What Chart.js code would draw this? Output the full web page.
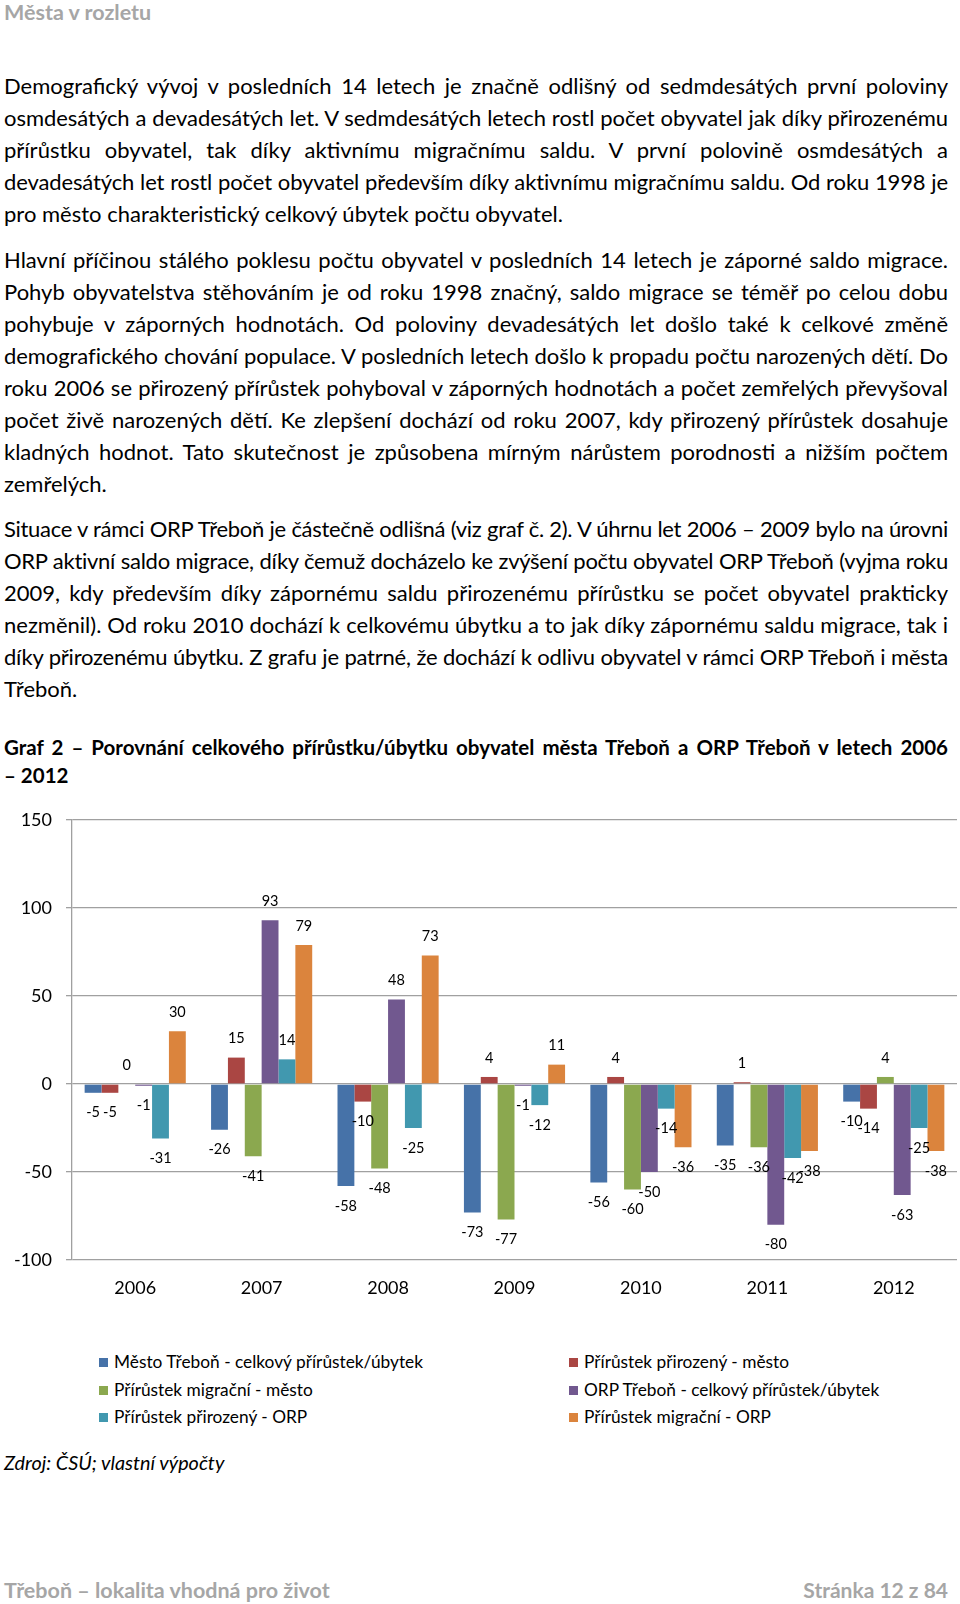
<!DOCTYPE html>
<html>
<head>
<meta charset="utf-8">
<script src="https://cdn.jsdelivr.net/npm/chart.js@4"></script>
<style>
  html,body{margin:0;padding:0;background:#fff;}
  body{width:960px;height:1604px;position:relative;overflow:hidden;font-family:Lato, "Open Sans", sans-serif;color:#000;}
  .ln{position:absolute;left:4px;width:944px;white-space:nowrap;font-size:22px;line-height:32px;}
  .j{text-align:justify;text-align-last:justify;}
  .gray{color:#a6a6a6;font-weight:bold;font-size:21.5px;}
  .title{font-weight:bold;font-size:20.5px;line-height:28px;}
  #chartWrap{position:absolute;left:0;top:790px;width:960px;height:530px;}
  .lg{position:absolute;font-size:17.3px;line-height:20px;white-space:nowrap;}
  .lg i{display:inline-block;width:9px;height:9px;margin-right:6px;vertical-align:1px;}
</style>
</head>
<body>
<div class="ln gray" style="top:0px;line-height:24px;font-size:21.5px;">Města v rozletu</div>
<div id="text"></div>
<div id="chartWrap"><canvas id="c" width="960" height="530"></canvas></div>
<div id="legend"></div>
<div class="ln" style="top:1446px;font-style:italic;font-size:19.8px;">Zdroj: ČSÚ; vlastní výpočty</div>
<div class="ln gray" style="top:1574px;">Třeboň – lokalita vhodná pro život</div>
<div class="ln gray" style="top:1574px;text-align:right;font-size:21px;">Stránka 12 z 84</div>
<script>
// ---- data ----
const years = ["2006","2007","2008","2009","2010","2011","2012"];
const seriesNames = [
  "Město Třeboň - celkový přírůstek/úbytek",
  "Přírůstek přirozený - město",
  "Přírůstek migrační - město",
  "ORP Třeboň - celkový přírůstek/úbytek",
  "Přírůstek přirozený - ORP",
  "Přírůstek migrační - ORP"
];
const mestoCelkovy   = [-5, -26, -58, -73, -56, -35, -10];
const mestoPrirozeny = [-5,  15, -10,   4,   4,   1, -14];
const mestoMigracni  = [ 0, -41, -48, -77, -60, -36,   4];
const orpCelkovy     = [-1,  93,  48,  -1, -50, -80, -63];
const orpPrirozeny   = [-31, 14, -25, -12, -14, -42, -25];
const orpMigracni    = [30,  79,  73,  11, -36, -38, -38];
const yTicks = [-100, -50, 0, 50, 100, 150];

const colors = ["#4672A8","#AA4643","#8BA84F","#71588F","#4198AF","#DB843D"];
const allSeries = [mestoCelkovy, mestoPrirozeny, mestoMigracni, orpCelkovy, orpPrirozeny, orpMigracni];

// ---- text ----
const paragraphs = [
  {top:70, lines:[
    "Demografický vývoj v posledních 14 letech je značně odlišný od sedmdesátých první poloviny",
    "osmdesátých a devadesátých let. V sedmdesátých letech rostl počet obyvatel jak díky přirozenému",
    "přírůstku obyvatel, tak díky aktivnímu migračnímu saldu. V první polovině osmdesátých a",
    "devadesátých let rostl počet obyvatel především díky aktivnímu migračnímu saldu. Od roku 1998 je",
    "pro město charakteristický celkový úbytek počtu obyvatel."]},
  {top:244, lines:[
    "Hlavní příčinou stálého poklesu počtu obyvatel v posledních 14 letech je záporné saldo migrace.",
    "Pohyb obyvatelstva stěhováním je od roku 1998 značný, saldo migrace se téměř po celou dobu",
    "pohybuje v záporných hodnotách. Od poloviny devadesátých let došlo také k celkové změně",
    "demografického chování populace. V posledních letech došlo k propadu počtu narozených dětí. Do",
    "roku 2006 se přirozený přírůstek pohyboval v záporných hodnotách a počet zemřelých převyšoval",
    "počet živě narozených dětí. Ke zlepšení dochází od roku 2007, kdy přirozený přírůstek dosahuje",
    "kladných hodnot. Tato skutečnost je způsobena mírným nárůstem porodnosti a nižším počtem",
    "zemřelých."]},
  {top:513, lines:[
    "Situace v rámci ORP Třeboň je částečně odlišná (viz graf č. 2). V úhrnu let 2006 – 2009 bylo na úrovni",
    "ORP aktivní saldo migrace, díky čemuž docházelo ke zvýšení počtu obyvatel ORP Třeboň (vyjma roku",
    "2009, kdy především díky zápornému saldu přirozenému přírůstku se počet obyvatel prakticky",
    "nezměnil). Od roku 2010 dochází k celkovému úbytku a to jak díky zápornému saldu migrace, tak i",
    "díky přirozenému úbytku. Z grafu je patrné, že dochází k odlivu obyvatel v rámci ORP Třeboň i města",
    "Třeboň."]}
];
const textEl = document.getElementById('text');
function addLine(cls, top, t) {
  const d = document.createElement('div');
  d.className = cls;
  d.style.top = top + 'px';
  const s = document.createElement('span');
  s.textContent = t;
  d.appendChild(s);
  textEl.appendChild(d);
  const saved = d.style.textAlignLast;
  d.style.textAlignLast = 'left';
  d.style.textAlign = 'left';
  const w = s.getBoundingClientRect().width;
  d.style.textAlign = '';
  d.style.textAlignLast = saved;
  if (w > 940) {
    d.style.letterSpacing = ((940 - w) / t.length) + 'px';
  }
}
paragraphs.forEach(p => {
  p.lines.forEach((t, i) => {
    addLine('ln' + (i < p.lines.length - 1 ? ' j' : ''), p.top + i * 32, t);
  });
});
const titleLines = ["Graf 2 – Porovnání celkového přírůstku/úbytku obyvatel města Třeboň a ORP Třeboň v letech 2006", "– 2012"];
titleLines.forEach((t, i) => {
  addLine('ln title' + (i === 0 ? ' j' : ''), 733 + i * 28, t);
});

// ---- legend ----
const legendEl = document.getElementById('legend');
seriesNames.forEach((n, i) => {
  const col = i % 2, row = Math.floor(i / 2);
  const d = document.createElement('div');
  d.className = 'lg';
  d.style.left = (col === 0 ? 99 : 569) + 'px';
  d.style.top = (1352 + row * 27.5) + 'px';
  d.innerHTML = '<i style="background:' + colors[i] + '"></i>';
  d.appendChild(document.createTextNode(n));
  legendEl.appendChild(d);
});

// ---- chart ----
const labelPlugin = {
  id: 'valLabels',
  afterDatasetsDraw(chart) {
    const ctx = chart.ctx;
    ctx.save();
    ctx.font = '14.5px Lato';
    ctx.fillStyle = '#000';
    ctx.textAlign = 'center';
    ctx.textBaseline = 'middle';
    chart.data.datasets.forEach((ds, di) => {
      const meta = chart.getDatasetMeta(di);
      meta.data.forEach((el, i) => {
        const v = ds.data[i];
        const y = v < 0 ? el.y + 20 : el.y - 19;
        ctx.fillText(String(v), el.x, y);
      });
    });
    ctx.restore();
  }
};

new Chart(document.getElementById('c'), {
  type: 'bar',
  data: {
    labels: years,
    datasets: allSeries.map((d, i) => ({
      label: seriesNames[i],
      data: d,
      backgroundColor: colors[i],
      borderWidth: 0,
      categoryPercentage: 0.8,
      barPercentage: 1.0
    }))
  },
  options: {
    responsive: false,
    animation: false,
    layout: {padding: {top: 30, right: 3, left: 0, bottom: 0}},
    plugins: {legend: {display: false}, tooltip: {enabled: false}},
    scales: {
      x: {
        grid: {display: false, drawTicks: false},
        border: {display: false},
        ticks: {padding: 17, color: '#000', font: {family: 'Lato', size: 18}},
        afterFit(s) { s.height = 60; }
      },
      y: {
        min: -100, max: 150,
        afterBuildTicks(s) { s.ticks = yTicks.map(v => ({value: v})); },
        grid: {color: '#a0a0a0', lineWidth: 1.3, tickLength: 6},
        border: {color: '#a0a0a0', width: 1.3},
        ticks: {padding: 14, color: '#000', font: {family: 'Lato', size: 18}},
        afterFit(s) { s.width = 72; }
      }
    }
  },
  plugins: [labelPlugin]
});
</script>
</body>
</html>
